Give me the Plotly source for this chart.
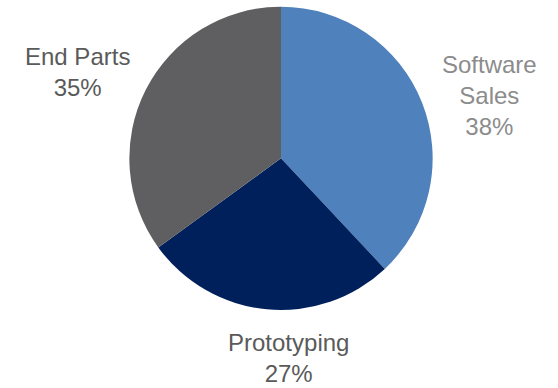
import plotly.graph_objects as go

labels = ["Software Sales", "Prototyping", "End Parts"]
label_lines = ["Software<br>Sales", "Prototyping", "End Parts"]
values = [38, 27, 35]
colors = ["#4F81BD", "#00205C", "#5F5F61"]
label_colors = ["#8C8C8C", "#5A5A5A", "#5A5A5A"]
# annotation anchor positions (paper coords) and vertical anchors
label_x = [489 / 558, 288 / 558, 78 / 558]
label_y = [1 - 95 / 388, 0.0, 1 - 72 / 388]
label_yanchor = ["middle", "bottom", "middle"]

fig = go.Figure(go.Pie(
    labels=labels,
    values=values,
    sort=False,
    direction="clockwise",
    rotation=0,
    marker=dict(colors=colors, line=dict(width=0)),
    textinfo="none",
    hoverinfo="label+percent",
    showlegend=False,
    domain=dict(x=[129.3 / 558, 432.7 / 558], y=[1 - 310 / 388, 1 - 6.7 / 388]),
))

for lab, v, c, x, y, ya in zip(label_lines, values, label_colors, label_x, label_y, label_yanchor):
    fig.add_annotation(
        text=f"{lab}<br>{v}%",
        x=x, y=y, xref="paper", yref="paper",
        xanchor="center", yanchor=ya,
        showarrow=False, align="center", borderpad=0,
        font=dict(family="Liberation Sans, Arial, sans-serif", size=24, color=c),
    )

fig.update_layout(
    width=558, height=388,
    margin=dict(l=0, r=0, t=0, b=0),
    paper_bgcolor="white", plot_bgcolor="white",
)

fig.write_html("out.html")
